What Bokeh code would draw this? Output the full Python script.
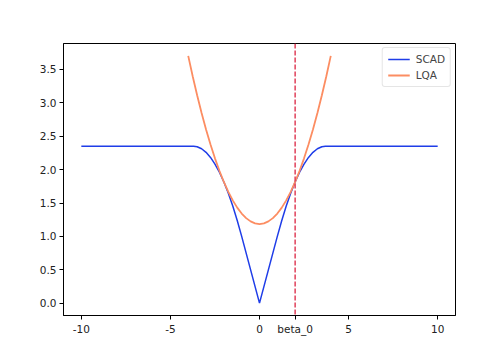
from bokeh.plotting import figure
from bokeh.models import Span, Legend, LegendItem, FixedTicker, NumeralTickFormatter, Range1d
from bokeh.embed import file_html
from bokeh.resources import INLINE

# SCAD penalty (lambda=1, a=3.7)
scad_x = [-10, -3.7, -3.5, -3.25, -3.0, -2.75, -2.5, -2.25, -2.0, -1.75, -1.5, -1.25, -1.0,
          0.0,
          1.0, 1.25, 1.5, 1.75, 2.0, 2.25, 2.5, 2.75, 3.0, 3.25, 3.5, 3.7, 10]
scad_y = [2.35, 2.35, 2.3426, 2.3125, 2.2593, 2.1829, 2.0833, 1.9606, 1.8148, 1.6458, 1.4537, 1.2384, 1.0,
          0.0,
          1.0, 1.2384, 1.4537, 1.6458, 1.8148, 1.9606, 2.0833, 2.1829, 2.2593, 2.3125, 2.3426, 2.35, 2.35]

# LQA curve around beta_0
lqa_x = [-4.0, -3.75, -3.5, -3.25, -3.0, -2.75, -2.5, -2.25, -2.0, -1.75, -1.5, -1.25, -1.0, -0.75, -0.5, -0.25,
         0.0, 0.25, 0.5, 0.75, 1.0, 1.25, 1.5, 1.75, 2.0, 2.25, 2.5, 2.75, 3.0, 3.25, 3.5, 3.75, 4.0]
lqa_y = [3.7037, 3.3988, 3.1134, 2.8478, 2.6019, 2.3756, 2.1690, 1.9821, 1.8148, 1.6673, 1.5394, 1.4311, 1.3426, 1.2737, 1.2245, 1.1950,
         1.1852, 1.1950, 1.2245, 1.2737, 1.3426, 1.4311, 1.5394, 1.6673, 1.8148, 1.9821, 2.1690, 2.3756, 2.6019, 2.8478, 3.1134, 3.3988, 3.7037]

beta_0 = 2.0
x_ticks = [-10, -5, 0, 2, 5, 10]
x_tick_labels = ["-10", "-5", "0", "beta_0", "5", "10"]
y_ticks = [0.0, 0.5, 1.0, 1.5, 2.0, 2.5, 3.0, 3.5]
series_names = ["SCAD", "LQA"]

p = figure(width=504, height=360, output_backend="svg", toolbar_location=None,
           x_range=Range1d(-11, 11), y_range=Range1d(-0.185, 3.889))
p.min_border_left = 63
p.min_border_right = 49
p.min_border_top = 43
p.min_border_bottom = 45
p.background_fill_color = "white"
p.border_fill_color = "white"
p.outline_line_color = "black"
p.outline_line_width = 1
p.xgrid.visible = False
p.ygrid.visible = False

r1 = p.line(scad_x, scad_y, line_color="#1f3de8", line_width=1.5)
r2 = p.line(lqa_x, lqa_y, line_color="#fc8d62", line_width=1.8)

vline = Span(location=beta_0, dimension="height", line_color="#e0405a",
             line_dash="5 2", line_width=1.5)
p.add_layout(vline)

p.xaxis.ticker = FixedTicker(ticks=x_ticks)
p.xaxis.major_label_overrides = {t: l for t, l in zip(x_ticks, x_tick_labels)}
p.yaxis.ticker = FixedTicker(ticks=y_ticks)
p.yaxis.formatter = NumeralTickFormatter(format="0.0")
for ax in (p.xaxis, p.yaxis):
    ax.axis_line_color = "black"
    ax.major_tick_line_color = "black"
    ax.major_tick_out = 4
    ax.major_tick_in = 0
    ax.minor_tick_line_color = None
    ax.major_label_text_font = "DejaVu Sans"
    ax.major_label_text_font_size = "10.5px"
    ax.major_label_text_color = "#222222"
    ax.major_label_standoff = 3

legend = Legend(items=[LegendItem(label=series_names[0], renderers=[r1]),
                       LegendItem(label=series_names[1], renderers=[r2])],
                location="top_right")
legend.label_text_font = "DejaVu Sans"
legend.label_text_font_size = "10.5px"
legend.label_height = 12
legend.glyph_height = 12
legend.glyph_width = 22
legend.spacing = 4
legend.padding = 5
legend.margin = 4
legend.border_line_color = "#cccccc"
legend.border_radius = 3
legend.label_standoff = 6
p.add_layout(legend)

open("out.html", "w").write(file_html(p, INLINE))
